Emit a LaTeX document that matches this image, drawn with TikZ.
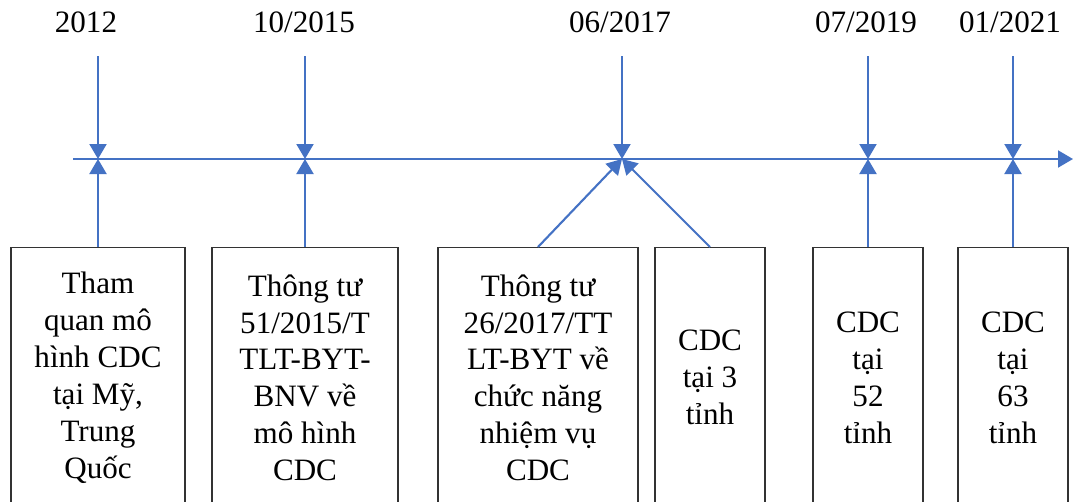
\documentclass[tikz,border=0pt]{standalone}
\usepackage{fontspec}
\setmainfont{Liberation Serif}
\usetikzlibrary{arrows.meta}
\definecolor{lineblue}{HTML}{4472C4}

\begin{document}
\begin{tikzpicture}[x=0.02cm,y=-0.02cm,
    font=\fontsize{17.7}{21}\selectfont,
    tlarrow/.style={draw=lineblue, line width=1.2pt, -{Triangle[length=0.3cm,width=0.34cm]}},
    box/.style={draw=black!80, line width=0.8pt, anchor=north, minimum height=5.2cm, align=center, inner sep=0pt}]
    \useasboundingbox (0,0) rectangle (1073,501);

    % dates
    \node (d1) at (86,22) {2012};
    \node (d2) at (304,22) {10/2015};
    \node (d3) at (620,22) {06/2017};
    \node (d4) at (866,22) {07/2019};
    \node (d5) at (1010,22) {01/2021};

    % boxes
    \node[box, minimum width=3.48cm] (b1) at (98,247) {Tham\\quan mô\\hình CDC\\tại Mỹ,\\Trung\\Quốc};
    \node[box, minimum width=3.72cm] (b2) at (305,247) {Thông tư\\51/2015/T\\TLT-BYT-\\BNV về\\mô hình\\CDC};
    \node[box, minimum width=4cm] (b3) at (538,247) {Thông tư\\26/2017/TT\\LT-BYT về\\chức năng\\nhiệm vụ\\CDC};
    \node[box, minimum width=2.2cm] (b4) at (710,247) {CDC\\tại 3\\tỉnh};
    \node[box, minimum width=2.2cm] (b5) at (868,247) {CDC\\tại\\52\\tỉnh};
    \node[box, minimum width=2.2cm] (b6) at (1013,247) {CDC\\tại\\63\\tỉnh};

    % timeline
    \coordinate (tl0) at (73,159);
    \coordinate (tl1) at (1073,159);
    \coordinate (j1) at (98,159);
    \coordinate (j2) at (305,159);
    \coordinate (j3) at (622,159);
    \coordinate (j4) at (868,159);
    \coordinate (j5) at (1013,159);
    \coordinate (top1) at (98,56);
    \coordinate (top2) at (305,56);
    \coordinate (top3) at (622,56);
    \coordinate (top4) at (868,56);
    \coordinate (top5) at (1013,56);

    \draw[tlarrow] (tl0) -- (tl1);
    \draw[tlarrow] (top1) -- (j1);
    \draw[tlarrow] (top2) -- (j2);
    \draw[tlarrow] (top3) -- (j3);
    \draw[tlarrow] (top4) -- (j4);
    \draw[tlarrow] (top5) -- (j5);
    \draw[tlarrow] (b1.north) -- (j1);
    \draw[tlarrow] (b2.north) -- (j2);
    \draw[tlarrow] (b3.north) -- (j3);
    \draw[tlarrow] (b4.north) -- (j3);
    \draw[tlarrow] (b5.north) -- (j4);
    \draw[tlarrow] (b6.north) -- (j5);
\end{tikzpicture}
\end{document}
